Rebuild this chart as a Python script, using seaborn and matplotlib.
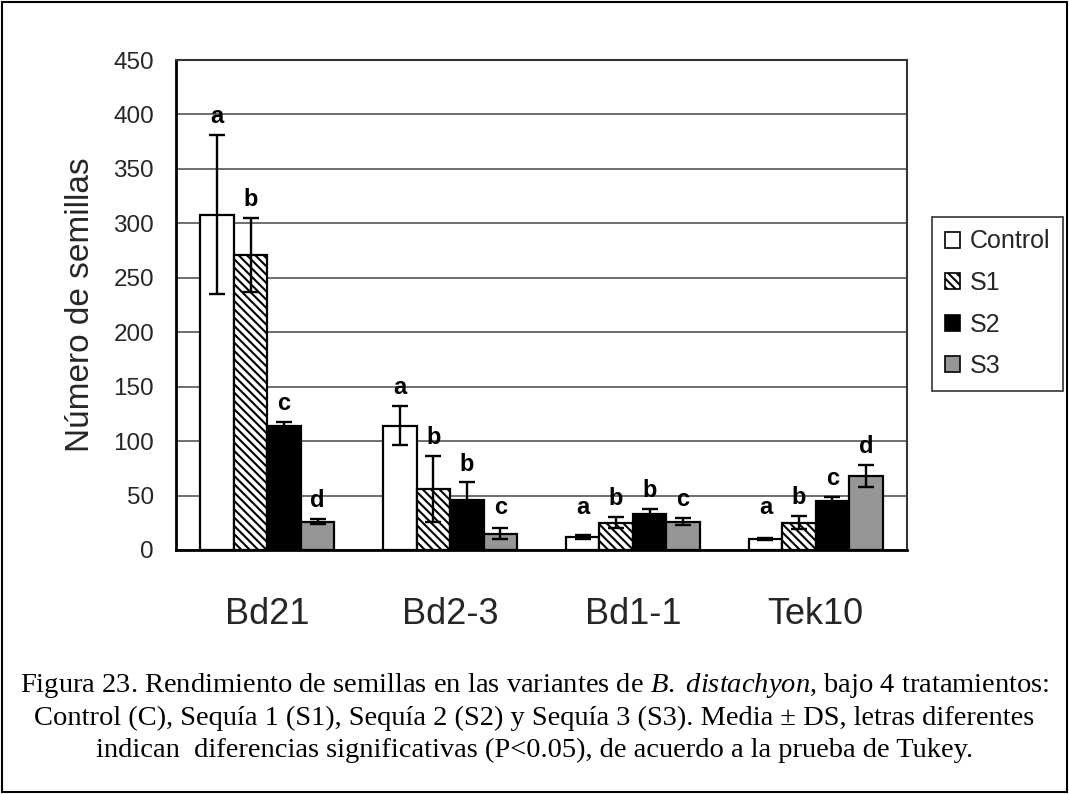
import pandas as pd
import matplotlib
matplotlib.use("Agg")
import matplotlib.pyplot as plt
import seaborn as sns
from matplotlib.patches import Rectangle

# Seed yield per variant and treatment (mean and standard deviation)
variants = ["Bd21", "Bd2-3", "Bd1-1", "Tek10"]
treatments = ["Control", "S1", "S2", "S3"]

control_mean = [308, 114, 12, 10]
control_sd = [73, 18, 1.5, 0.8]
s1_mean = [271, 56, 25, 25]
s1_sd = [34, 30, 5, 6]
s2_mean = [114, 46, 33, 45]
s2_sd = [4, 16, 5, 4]
s3_mean = [26, 15, 26, 68]
s3_sd = [2.5, 5, 3, 10]

# Tukey grouping letters
control_letters = ["a", "a", "a", "a"]
s1_letters = ["b", "b", "b", "b"]
s2_letters = ["c", "b", "b", "c"]
s3_letters = ["d", "c", "c", "d"]

y_ticks = [0, 50, 100, 150, 200, 250, 300, 350, 400, 450]

means = [control_mean, s1_mean, s2_mean, s3_mean]
sds = [control_sd, s1_sd, s2_sd, s3_sd]
letters = [control_letters, s1_letters, s2_letters, s3_letters]

rows = []
for t, m_list in zip(treatments, means):
    for v, m in zip(variants, m_list):
        rows.append({"variante": v, "tratamiento": t, "semillas": m})
df = pd.DataFrame(rows)

sns.set_style("white")
plt.rcParams["font.family"] = ["Liberation Sans", "DejaVu Sans"]
plt.rcParams["hatch.linewidth"] = 1.5
plt.rcParams["mathtext.fontset"] = "custom"
plt.rcParams["mathtext.rm"] = "Liberation Serif"
plt.rcParams["mathtext.it"] = "Liberation Serif:italic"

W, H = 1069, 794
fig = plt.figure(figsize=(W / 100, H / 100), dpi=100)
ax = fig.add_axes([176 / W, 1 - 550 / H, (907 - 176) / W, (550 - 60) / H])

colors = {"Control": "white", "S1": "white", "S2": "black", "S3": "#969696"}
hatches = {"Control": "", "S1": "\\\\\\\\", "S2": "", "S3": ""}

sns.barplot(data=df, x="variante", y="semillas", hue="tratamiento",
            order=variants, hue_order=treatments, palette=colors,
            saturation=1, width=0.732, gap=0, errorbar=None,
            edgecolor="black", linewidth=1.6, legend=False, ax=ax, zorder=2)

for cont, t in zip(ax.containers, treatments):
    for bar in cont:
        bar.set_hatch(hatches[t])

# error bars and significance letters
for cont, m_list, s_list, l_list in zip(ax.containers, means, sds, letters):
    for bar, m, s, lab in zip(cont, m_list, s_list, l_list):
        xc = bar.get_x() + bar.get_width() / 2
        ax.errorbar(xc, m, yerr=s, fmt="none", ecolor="black",
                    elinewidth=1.7, capsize=5.6, capthick=1.7, zorder=4)
        ax.text(xc, max(m + s + 11, 33), lab, ha="center", va="baseline",
                fontsize=17, fontweight="bold", color="black", zorder=5)

ax.set_xlim(-0.5, len(variants) - 0.5)
ax.set_ylim(0, 450)
ax.set_yticks(y_ticks)
ax.yaxis.grid(True, color="#555555", linewidth=1.2)
ax.xaxis.grid(False)
ax.set_axisbelow(True)

for side in ["left", "bottom"]:
    ax.spines[side].set_linewidth(2)
    ax.spines[side].set_color("black")
for side in ["top", "right"]:
    ax.spines[side].set_linewidth(1.5)
    ax.spines[side].set_color("#333333")

ax.set_xticks([i - 0.5 for i in range(len(variants) + 1)], minor=True)
ax.tick_params(axis="x", which="major", length=0, labelsize=26, pad=34)
ax.tick_params(axis="x", which="minor", direction="out", length=9.4,
               width=1.5, color="black")
ax.tick_params(axis="y", direction="out", length=5.8, width=1.5,
               color="black", labelsize=17.5, pad=10)
ax.set_xlabel("")
ax.set_ylabel("Número de semillas", fontsize=24)
ax.yaxis.set_label_coords(-0.11, 0.5)

handles = [Rectangle((0, 0), 1, 1, facecolor=colors[t], edgecolor="black",
                     hatch=hatches[t], linewidth=1.2) for t in treatments]
leg = fig.legend(handles, treatments, loc="upper left",
                 bbox_to_anchor=(932 / W, 1 - 217 / H), frameon=True,
                 fancybox=False, edgecolor="black", fontsize=18,
                 handlelength=0.6, handleheight=0.6, handletextpad=0.4,
                 labelspacing=0.7, borderpad=0.5, borderaxespad=0)
leg.get_frame().set_linewidth(1.2)

# outer frame of the figure
fig.add_artist(Rectangle((2 / W, 2 / H), 1 - 4 / W, 1 - 4 / H,
                         transform=fig.transFigure, fill=False,
                         edgecolor="black", linewidth=1.5))

caption = [
    r"Figura 23. Rendimiento de semillas en las variantes de $\mathit{B.}$ $\mathit{distachyon}$, bajo 4 tratamientos:",
    "Control (C), Sequía 1 (S1), Sequía 2 (S2) y Sequía 3 (S3). Media ± DS, letras diferentes",
    "indican  diferencias significativas (P<0.05), de acuerdo a la prueba de Tukey.",
]
for yy, line in zip([686, 718, 750], caption):
    fig.text(0.5, 1 - yy / H, line, ha="center", va="center",
             family="Liberation Serif", fontsize=20.5, color="black")

fig.savefig("out.png", dpi=100)
